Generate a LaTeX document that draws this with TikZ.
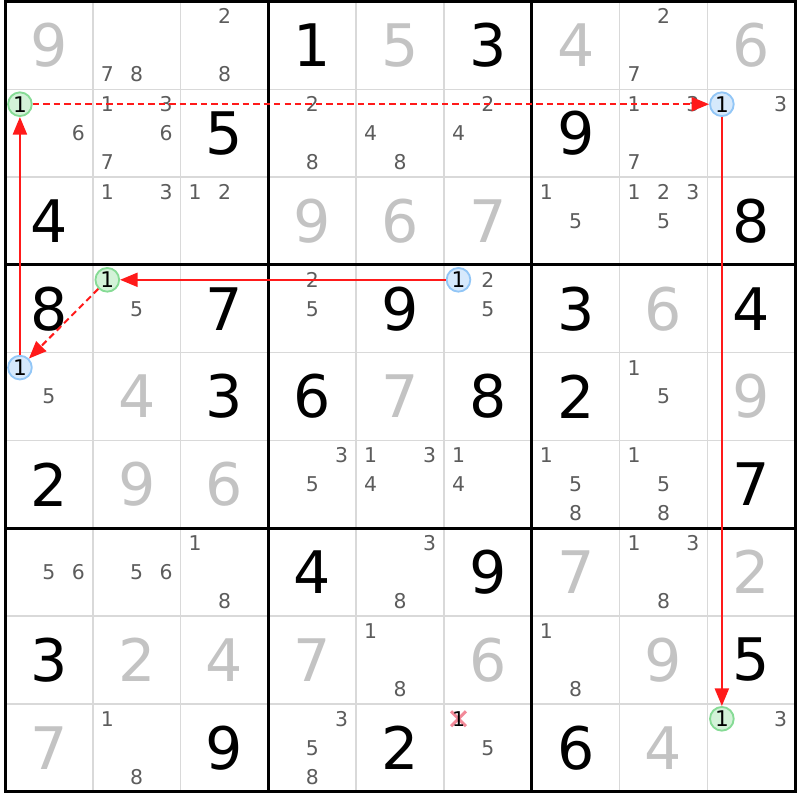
\documentclass[tikz,border=0pt]{standalone}
\usepackage{fontspec}
\setmainfont{DejaVu Sans}
\usepackage{tikz}
\usetikzlibrary{positioning}
\usetikzlibrary{arrows.meta}
\definecolor{solved}{HTML}{C3C3C3}
\definecolor{candgray}{HTML}{5C5C5C}
\definecolor{thingrid}{HTML}{D9D9D9}
\definecolor{linkred}{HTML}{FF1A1A}
\definecolor{greenfill}{HTML}{D3F2D8}
\definecolor{greenline}{HTML}{86DB95}
\definecolor{bluefill}{HTML}{D6E9FC}
\definecolor{blueline}{HTML}{92C6F6}
\definecolor{crosspink}{HTML}{F28A99}
\tikzset{
  given/.style={font=\fontsize{19}{20}\selectfont,inner sep=0pt},
  clue/.style={given,text=solved},
  cand/.style={font=\fontsize{6.6}{7}\selectfont,inner sep=0pt,text=candgray},
  onA/.style={circle,draw=greenline,fill=greenfill,line width=0.6pt,inner sep=0pt,
    minimum size=0.27cm,font=\fontsize{7}{7}\selectfont},
  onB/.style={onA,draw=blueline,fill=bluefill},
  link/.style={color=linkred,line width=0.65pt},
  weak/.style={link,dashed,dash pattern=on 2.1pt off 1.3pt,line width=0.65pt}
}
\begin{document}
\begin{tikzpicture}[>={Triangle[length=0.2cm,width=0.16cm]},shorten >=0pt]
   \useasboundingbox (-0.057,0.017) rectangle (9.055,-9.095);
   % thin lines
   \foreach \i in {1,2,4,5,7,8}
     \draw[thingrid,line width=0.5pt] (\i,0) -- (\i,-9) (0,-\i) -- (9,-\i);
   % thick lines
   \foreach \i in {3,6}
     \draw[line width=0.97pt] (\i,0) -- (\i,-9) (0,-\i) -- (9,-\i);
   \draw[line width=0.97pt] (0,0) rectangle (9,-9);
   % givens
   \foreach \c/\r/\d in {4/1/1,6/1/3,3/2/5,7/2/9,1/3/4,9/3/8,1/4/8,3/4/7,5/4/9,7/4/3,9/4/4,
       3/5/3,4/5/6,6/5/8,7/5/2,1/6/2,9/6/7,4/7/4,6/7/9,1/8/3,9/8/5,3/9/9,5/9/2,7/9/6}
     \node[given] (v\r\c) at (\c-0.5,0.5-\r) {\d};
   % solved cells
   \foreach \c/\r/\d in {1/1/9,5/1/5,7/1/4,9/1/6,4/3/9,5/3/6,6/3/7,8/4/6,2/5/4,5/5/7,9/5/9,
       2/6/9,3/6/6,7/7/7,9/7/2,2/8/2,3/8/4,4/8/7,6/8/6,8/8/9,1/9/7,8/9/4}
     \node[clue] (v\r\c) at (\c-0.5,0.5-\r) {\d};
   % candidates
   \foreach \c/\r/\k in {2/1/7,2/1/8,3/1/2,3/1/8,8/1/2,8/1/7,
       1/2/6,2/2/1,2/2/3,2/2/6,2/2/7,4/2/2,4/2/8,5/2/4,5/2/8,6/2/2,6/2/4,8/2/1,8/2/3,8/2/7,9/2/3,
       2/3/1,2/3/3,3/3/1,3/3/2,7/3/1,7/3/5,8/3/1,8/3/2,8/3/3,8/3/5,
       2/4/5,4/4/2,4/4/5,6/4/2,6/4/5,
       1/5/5,8/5/1,8/5/5,
       4/6/3,4/6/5,5/6/1,5/6/3,5/6/4,6/6/1,6/6/4,7/6/1,7/6/5,7/6/8,8/6/1,8/6/5,8/6/8,
       1/7/5,1/7/6,2/7/5,2/7/6,3/7/1,3/7/8,5/7/3,5/7/8,8/7/1,8/7/3,8/7/8,
       5/8/1,5/8/8,7/8/1,7/8/8,
       2/9/1,2/9/8,4/9/3,4/9/5,4/9/8,6/9/5,9/9/3}
     \node[cand] (k\r\c\k) at ({\c-0.5+(mod(\k-1,3)-1)*0.335},{0.5-\r-(int((\k-1)/3)-1)*0.33}) {\k};
   % eliminated candidate
   \draw[crosspink,line width=1pt] (5.08,-8.085) -- (5.25,-8.255) (5.08,-8.255) -- (5.25,-8.085);
   \node[cand,text=black] (k961) at (5.165,-8.17) {1};
   % chain
   \node[onA] (g21) at (0.17,-1.17) {1};
   \node[onB] (b29) at (8.165,-1.17) {1};
   \node[onA] (g99) at (8.165,-8.17) {1};
   \node[onB] (b46) at (5.165,-3.17) {1};
   \node[onA] (g42) at (1.165,-3.17) {1};
   \node[onB] (b51) at (0.17,-4.17) {1};
   \draw[->,weak] (g21) -- (b29);
   \draw[->,link] (b29) -- (g99);
   \draw[->,link] (b46) -- (g42);
   \draw[->,weak] (g42) -- (b51);
   \draw[->,link] (b51) -- (g21);
\end{tikzpicture}
\end{document}
